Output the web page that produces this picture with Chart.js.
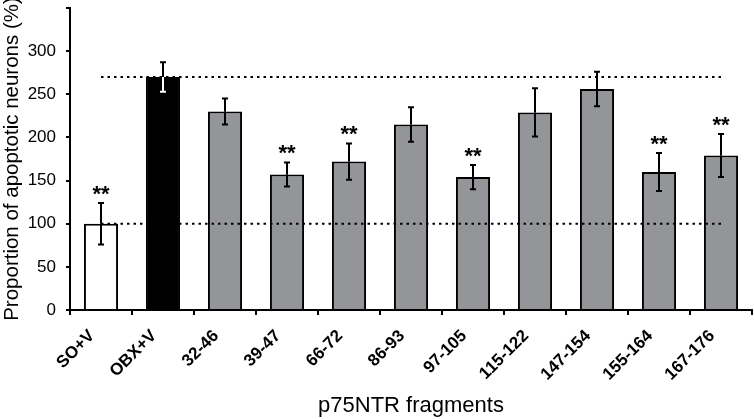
<!DOCTYPE html>
<html>
<head>
<meta charset="utf-8">
<script src="https://cdn.jsdelivr.net/npm/chart.js@4"></script>
<style>
  html, body { margin: 0; padding: 0; background: #fff; }
  #wrap { width: 754px; height: 419px; }
</style>
</head>
<body>
<div id="wrap"><canvas id="chart"></canvas></div>
<script>
// data
const categories = ['SO+V', 'OBX+V', '32-46', '39-47', '66-72', '86-93', '97-105', '115-122', '147-154', '155-164', '167-176'];
const meanValues = [100, 270, 230, 157, 172, 215, 154, 229, 256, 160, 179];
const errValues = [24, 17, 15, 14, 21, 20, 14, 28, 20, 22, 25];
const significant = [true, false, false, true, true, false, true, false, false, true, true];
const barColors = ['#ffffff', '#000000', '#949598', '#949598', '#949598', '#949598', '#949598', '#949598', '#949598', '#949598', '#949598'];
const refHigh = 270;
const refLow = 100;
const yTicks = [0, 50, 100, 150, 200, 250, 300, 350];

const FONT = '"Liberation Sans", Arial, sans-serif';

// error bars + significance stars
const errorBarPlugin = {
    id: 'errorBars',
    afterDatasetsDraw(chart) {
        const ctx = chart.ctx;
        const x = chart.scales.x;
        const y = chart.scales.y;
        ctx.save();
        ctx.lineWidth = 2;
        meanValues.forEach((v, i) => {
            const cx = x.getPixelForValue(i);
            const top = y.getPixelForValue(v + errValues[i]);
            const bot = y.getPixelForValue(v - errValues[i]);
            const vTop = y.getPixelForValue(v);
            // lower half sits inside the bar; white on the black one
            ctx.strokeStyle = i === 1 ? '#fff' : '#000';
            ctx.beginPath();
            ctx.moveTo(cx, vTop); ctx.lineTo(cx, bot);
            ctx.moveTo(cx - 3, bot); ctx.lineTo(cx + 3, bot);
            ctx.stroke();
            ctx.strokeStyle = '#000';
            ctx.beginPath();
            ctx.moveTo(cx, top); ctx.lineTo(cx, vTop);
            ctx.moveTo(cx - 3, top); ctx.lineTo(cx + 3, top);
            ctx.stroke();
            if (significant[i]) {
                ctx.fillStyle = '#000';
                ctx.font = 'bold 22px ' + FONT;
                ctx.textAlign = 'center';
                ctx.textBaseline = 'alphabetic';
                ctx.fillText('**', cx, top - 2);
            }
        });
        ctx.restore();
    }
};

new Chart(document.getElementById('chart'), {
    type: 'bar',
    data: {
        labels: categories,
        datasets: [
            {
                type: 'line',
                data: categories.map(() => refHigh),
                borderColor: '#000',
                borderWidth: 2,
                borderDash: [2.5, 4],
                pointRadius: 0,
                order: 0
            },
            {
                type: 'line',
                data: categories.map(() => refLow),
                borderColor: '#000',
                borderWidth: 2,
                borderDash: [2.5, 4],
                pointRadius: 0,
                order: 0
            },
            {
                data: meanValues,
                backgroundColor: barColors,
                borderColor: '#000',
                borderWidth: 2,
                categoryPercentage: 1,
                barPercentage: 0.55,
                order: 1
            }
        ]
    },
    options: {
        responsive: true,
        maintainAspectRatio: false,
        animation: false,
        layout: { padding: { top: 8, right: 2, left: 0, bottom: 0 } },
        plugins: {
            legend: { display: false },
            tooltip: { enabled: false }
        },
        scales: {
            x: {
                grid: { display: true, drawOnChartArea: false, offset: true, color: '#000', lineWidth: 2, tickLength: 5 },
                border: { color: '#000', width: 2 },
                ticks: {
                    color: '#000',
                    minRotation: 45,
                    maxRotation: 45,
                    padding: 11,
                    labelOffset: -9,
                    font: { family: FONT, size: 17, weight: 'bold' }
                },
                title: {
                    display: true,
                    text: 'p75NTR fragments',
                    color: '#000',
                    padding: { top: 0, bottom: 0 },
                    font: { family: FONT, size: 22 }
                },
                afterFit(scale) {
                    scale.height = 109;
                    scale.paddingLeft = 0;
                    scale.paddingRight = 0;
                }
            },
            y: {
                min: 0,
                max: 350,
                afterBuildTicks(scale) { scale.ticks = yTicks.map(v => ({ value: v })); },
                grid: { display: true, drawOnChartArea: false, color: '#000', lineWidth: 2, tickLength: 4 },
                border: { color: '#000', width: 2 },
                ticks: {
                    color: '#000',
                    padding: 10,
                    font: { family: FONT, size: 17 },
                    callback: v => (v === 350 ? '' : v)
                },
                title: {
                    display: true,
                    text: 'Proportion of apoptotic neurons (%)',
                    color: '#000',
                    padding: { top: 0, bottom: 0 },
                    font: { family: FONT, size: 20.5 }
                },
                afterFit(scale) {
                    scale.width = 70;
                    scale.paddingTop = 0;
                    scale.paddingBottom = 0;
                }
            }
        }
    },
    plugins: [errorBarPlugin]
});
</script>
</body>
</html>
